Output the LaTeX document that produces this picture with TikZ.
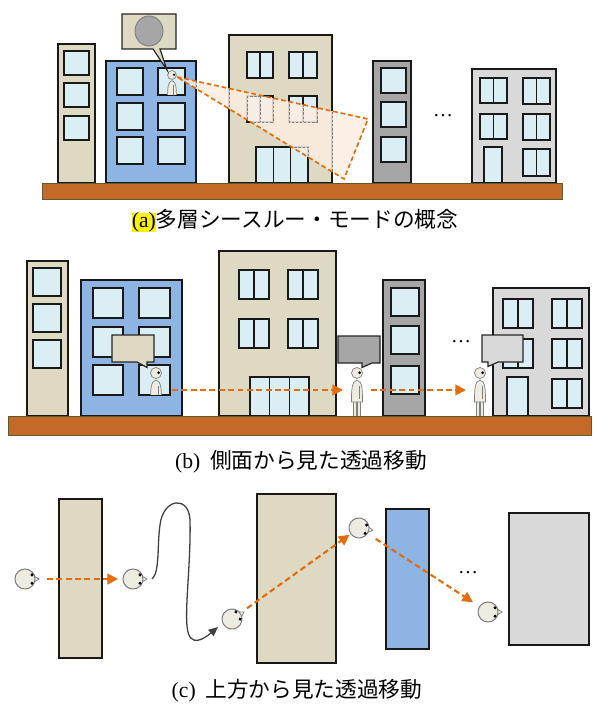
\documentclass[tikz,border=0pt]{standalone}
\usepackage{fontspec}
\setmainfont{Liberation Serif}
\newfontfamily\jpfont{Noto Sans CJK JP}
\usetikzlibrary{arrows.meta}

\definecolor{beigewall}{HTML}{DDD9C3}
\definecolor{bluewall}{HTML}{8EB4E3}
\definecolor{darkwall}{HTML}{A6A6A6}
\definecolor{lightwall}{HTML}{D9D9D9}
\definecolor{glass}{HTML}{DAEEF3}
\definecolor{soil}{HTML}{C46A29}
\definecolor{soilline}{HTML}{5F5A2E}
\definecolor{route}{HTML}{E46C0A}
\definecolor{skin}{HTML}{EEECE1}

\tikzset{
  wall/.style={draw=black!90, line width=1.4pt},
  pane/.style={draw=black!90, fill=glass, line width=1.4pt},
  ghost/.style={draw=gray, dashed, line width=0.6pt, dash pattern=on 2pt off 1.5pt},
  ground/.style={draw=soilline, fill=soil, line width=0.8pt},
  bubble/.style={draw=black!85, line width=1pt, line join=miter},
  figure/.style={draw=gray, fill=skin, line width=0.6pt},
  hop/.style={route, line width=1.8pt, dash pattern=on 5pt off 3pt,
    -{Triangle[length=9pt,width=9pt]}},
  drift/.style={draw=black!75, line width=1.1pt, -{Triangle[length=8pt,width=7pt]}},
  caption/.style={font=\fontsize{18.5}{20}\selectfont, inner sep=0pt},
  more/.style={font=\fontsize{17}{17}\selectfont, inner sep=0pt}
}

% windows: [style]{x1}{y1}{x2}{y2}
\newcommand\glasspane[5][pane]{\draw[#1] (#2,#3) rectangle (#4,#5);}
\newcommand\glassdouble[5][pane]{\draw[#1] (#2,#3) rectangle (#4,#5)
  ({(#2+#4)/2},#3) -- ({(#2+#4)/2},#5);}
\newcommand\glassdoor[5][pane]{\draw[#1] (#2,#3) rectangle (#4,#5)
  ({#2+(#4-#2)/3},#3) -- ({#2+(#4-#2)/3},#5)
  ({#2+2*(#4-#2)/3},#3) -- ({#2+2*(#4-#2)/3},#5);}

% side view of a person: {x}{head y}{scale}
\newcommand\walker[3]{%
  \begin{scope}[shift={(#1,#2)}, scale=#3]
    \draw[figure] (-3.4,24) rectangle (-0.4,43) (0.4,24) rectangle (3.4,43);
    \draw[figure] (0,7) .. controls (-5.5,8) and (-5.5,18) .. (-5.5,29) -- (5.5,29)
      .. controls (5.5,18) and (5.5,8) .. (0,7) -- cycle;
    \draw[gray, line width=0.4pt] (1.8,13) -- (1.8,26);
    \draw[figure] (0,0) circle (5.5);
    \fill (2.6,-0.3) circle (1.5);
  \end{scope}}

% head seen from above: {x}{y}{facing angle}
\newcommand\topview[3]{%
  \begin{scope}[shift={(#1,#2)}, rotate=#3]
    \draw[gray, fill=white, line width=0.7pt] (8,-3.5) -- (14,0) -- (8,3.5);
    \draw[gray, fill=skin, line width=0.9pt] (0,0) circle (10);
    \fill (7,-4.2) circle (1.7) (7,4.2) circle (1.7);
  \end{scope}}

\begin{document}
\begin{tikzpicture}[x=0.03cm, y=-0.03cm]
\useasboundingbox (0,0) rectangle (592,707);

% ---------- (a) ----------
\draw[wall, fill=beigewall] (58,44) rectangle (95,183);
\foreach \y in {51,83,116} {\glasspane{64}{\y}{89}{\y+24}}

\draw[wall, fill=bluewall] (106,61) rectangle (196,183);
\foreach \y in {68,103,137} {\glasspane{117}{\y}{143}{\y+27} \glasspane{158}{\y}{185}{\y+27}}
\begin{scope}
  \clip (158.7,68.7) rectangle (184.3,94.3);
  \walker{172}{75}{0.8}
\end{scope}

\draw[wall, fill=beigewall] (229,35) rectangle (332,183);
\foreach \y in {52,96} {\glassdouble{247}{\y}{273}{\y+26} \glassdouble{289}{\y}{317}{\y+26}}
\glassdoor{256}{147}{308}{183}

\draw[wall, fill=darkwall] (373,61) rectangle (411,183);
\foreach \y in {68,102,137} {\glasspane{381}{\y}{406}{\y+25}}

\node[more] (moreA) at (443,116) {…};

\draw[wall, fill=lightwall] (472,69) rectangle (556,183);
\foreach \y in {78,114} {\glassdouble{480}{\y}{507}{\y+25} \glassdouble{523}{\y}{550}{\y+26}}
\glassdouble{523}{149}{550}{176}
\glasspane{484}{147}{502}{183}

\draw[ground] (42,183) rectangle (562,199);

% line of sight through the walls
\coordinate (eyeA) at (177,77);
\coordinate (farA) at (368,119);
\coordinate (nearA) at (344,179);
\fill[route!12, fill opacity=0.85] (eyeA) -- (farA) -- (nearA) -- cycle;
\begin{scope}
  \clip (eyeA) -- (farA) -- (nearA) -- cycle;
  \draw[ghost] (106,61) rectangle (196,183) (229,35) rectangle (332,183);
  \glasspane[ghost]{158}{68}{185}{95}
  \foreach \y in {52,96} {\glassdouble[ghost]{247}{\y}{273}{\y+26} \glassdouble[ghost]{289}{\y}{317}{\y+26}}
  \glassdoor[ghost]{256}{147}{308}{183}
\end{scope}
\draw[route, line width=1.4pt, dash pattern=on 4pt off 2.5pt, line join=round]
  (eyeA) -- (farA) -- (nearA) -- cycle;

\draw[bubble, fill=beigewall] (122,14) -- (176,14) -- (176,49) -- (160,49)
  -- (167,70) -- (153,49) -- (122,49) -- cycle;
\draw[gray, fill=darkwall, line width=0.8pt] (149,31) ellipse (14 and 15);

\node[caption] (capA) at (295,221)
  {{\setlength{\fboxsep}{0pt}\colorbox{yellow}{(a)}}\jpfont 多層シースルー・モードの概念};

% ---------- (b) ----------
\draw[wall, fill=beigewall] (27,261) rectangle (68,416);
\foreach \y in {268,304,340} {\glasspane{33}{\y}{61}{\y+28}}

\draw[wall, fill=bluewall] (81,280) rectangle (182,416);
\foreach \y in {288,327,365} {\glasspane{93}{\y}{123}{\y+30} \glasspane{139}{\y}{170}{\y+30}}
\begin{scope}
  \clip (139.7,365.7) rectangle (169.3,394.3);
  \walker{156}{373}{1}
\end{scope}
\draw[bubble, fill=beigewall] (112,335) -- (154,335) -- (154,362) -- (147,362)
  -- (147,367.5) -- (137,362) -- (112,362) -- cycle;

\draw[wall, fill=beigewall] (219,251) rectangle (336,416);
\foreach \y in {270,319} {\glassdouble{239}{\y}{269}{\y+29} \glassdouble{288}{\y}{318}{\y+29}}
\glassdoor{250}{377}{309}{416}

\walker{357}{373}{1}
\draw[bubble, fill=darkwall] (338,336) -- (380,336) -- (380,363) -- (372,363)
  -- (362,367.5) -- (362,363) -- (338,363) -- cycle;

\draw[wall, fill=darkwall] (383,280) rectangle (425,416);
\foreach \y in {288,326,366} {\glasspane{391}{\y}{419}{\y+28}}

\node[more] (moreB) at (461,342) {…};

\draw[wall, fill=lightwall] (493,288) rectangle (589,416);
\foreach \y in {299,339} {\glassdouble{503}{\y}{533}{\y+29} \glassdouble{552}{\y}{582}{\y+29}}
\glassdouble{552}{379}{582}{408}
\glasspane{507}{377}{528}{416}

\walker{480}{373}{1}
\draw[bubble, fill=lightwall] (482,335) -- (523,335) -- (523,362) -- (498,362)
  -- (488,366.5) -- (488,362) -- (482,362) -- cycle;

\draw[ground] (8,416) rectangle (591.5,435);

\coordinate (w1) at (156,390);
\coordinate (w2) at (357,390);
\coordinate (w3) at (480,390);
\draw[hop, shorten <=13.6pt, shorten >=12pt] (w1) -- (w2);
\draw[hop, shorten <=12pt, shorten >=12pt] (w2) -- (w3);

\node[caption] (capB) at (301,462) {(b)\hspace{0.45em}{\jpfont 側面から見た透過移動}};

% ---------- (c) ----------
\draw[wall, fill=beigewall] (59,499) rectangle (102,658);
\draw[wall, fill=beigewall] (257,494) rectangle (336,663);
\draw[wall, fill=bluewall] (386,509) rectangle (429,649);
\draw[wall, fill=lightwall] (509,513) rectangle (589,645);
\node[more] (moreC) at (468,573) {…};

\coordinate (h1) at (25,579);
\coordinate (h2) at (133,579);
\coordinate (h3) at (232,619);
\coordinate (h4) at (359,528);
\coordinate (h5) at (488,612);
\topview{25}{579}{0}
\topview{133}{579}{0}
\topview{232}{619}{30}
\topview{359}{528}{-10}
\topview{488}{612}{0}

\draw[hop, shorten <=18.7pt, shorten >=12.8pt] (h1) -- (h2);
\draw[hop, shorten <=15.8pt, shorten >=10pt] (h3) -- (h4);
\draw[hop, shorten <=17pt, shorten >=15.3pt] (h4) -- (h5);
\draw[drift] (152,579) .. controls (160,572) and (157,545) .. (160,525)
  .. controls (163,498) and (189,495) .. (190,520)
  .. controls (191,560) and (185,605) .. (187,626)
  .. controls (189,650) and (205,638) .. (218,627);

\node[caption] (capC) at (297,691) {(c)\hspace{0.45em}{\jpfont 上方から見た透過移動}};
\end{tikzpicture}
\end{document}
